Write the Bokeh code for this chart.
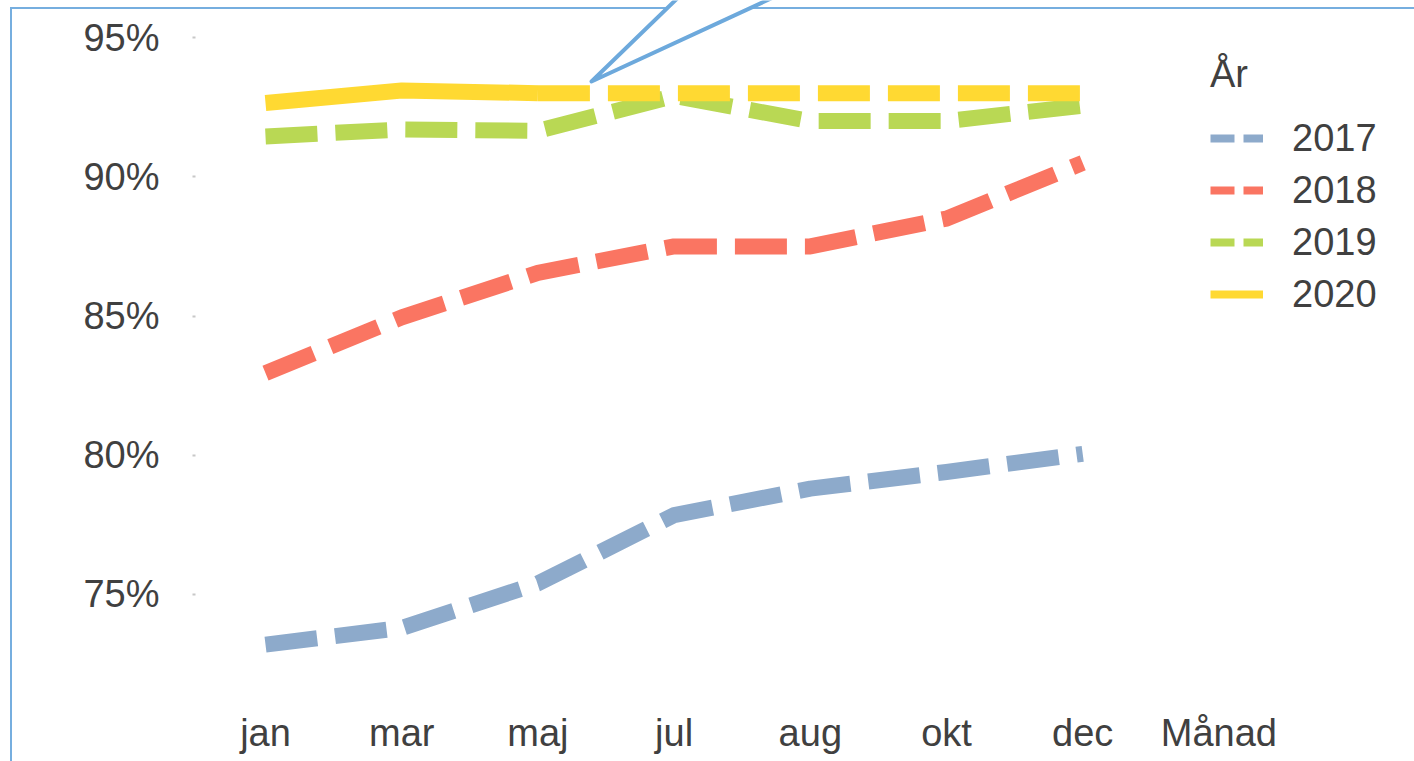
from bokeh.plotting import figure
from bokeh.models import (Range1d, FixedTicker, PrintfTickFormatter, Legend,
                          LegendItem, PolyAnnotation, InlineStyleSheet)
from bokeh.embed import file_html
from bokeh.resources import INLINE

# ---------------- data ----------------
months = ["jan", "mar", "maj", "jul", "aug", "okt", "dec"]
x_axis_title = "Månad"
legend_title = "År"
years = ["2017", "2018", "2019", "2020"]
v2017 = [73.2, 73.8, 75.4, 77.85, 78.8, 79.4, 80.05]
v2018 = [82.95, 84.95, 86.55, 87.5, 87.5, 88.5, 90.5]
v2019 = [91.45, 91.7, 91.65, 92.9, 92.0, 92.0, 92.55]
v2020 = [92.65, 93.1, 93.0, 93.0, 93.0, 93.0, 93.0]
n_solid_2020 = 3          # jan..maj drawn solid, the rest dashed
y_ticks = [75, 80, 85, 90, 95]

series = {"2017": v2017, "2018": v2018, "2019": v2019, "2020": v2020}
colors = {"2017": "#8DAACB", "2018": "#FA7562", "2019": "#B9D854", "2020": "#FFD932"}
TEXT = "#404040"
FONT = "Liberation Sans"
BORDER = "#76AEDF"

# ---------------- layout constants (pixels) ----------------
W, H = 1414, 761
FL, FT, FB = 195, 0, 705          # frame left / top / bottom on the canvas

def sx(px):   # canvas x -> frame screen x
    return px - FL

def sy(py):   # canvas y -> frame screen y (from bottom)
    return FB - py

xs = list(range(len(months)))

p = figure(width=W, height=H, output_backend="svg", toolbar_location=None,
           x_range=Range1d(-0.514, 8.436), y_range=Range1d(71.014, 96.33),
           min_border_left=FL, min_border_right=0, min_border_top=FT,
           min_border_bottom=H - FB)
p.outline_line_color = None
p.xgrid.visible = False
p.ygrid.visible = False
p.background_fill_alpha = 0
p.border_fill_alpha = 0

# chart border (thin blue frame line at left/top of the whole chart object)
p.stylesheets = [InlineStyleSheet(css=(
    ":host { position: relative; }"
    ":host::before { content: ''; position: absolute; left: 10px; top: 7px;"
    " width: 1402px; height: 752px; border-left: 2px solid " + BORDER + ";"
    " border-top: 2px solid " + BORDER + "; pointer-events: none; }"))]

# ---------------- series ----------------
LW = 16
DASH = "52 18"
p.line(xs, v2017, line_color=colors["2017"], line_width=LW, line_dash=DASH, line_join="round")
p.line(xs, v2018, line_color=colors["2018"], line_width=LW, line_dash=DASH, line_join="round")
p.line(xs, v2019, line_color=colors["2019"], line_width=LW, line_dash=DASH, line_join="round")
p.line(xs[:n_solid_2020], v2020[:n_solid_2020], line_color=colors["2020"], line_width=LW,
       line_join="round")
p.line(xs[n_solid_2020 - 1:], v2020[n_solid_2020 - 1:], line_color=colors["2020"],
       line_width=LW, line_dash=DASH, line_join="round")

# ---------------- axes ----------------
xax = p.xaxis[0]
xax.ticker = FixedTicker(ticks=xs + [len(months)])
xax.major_label_overrides = {i: m for i, m in enumerate(months)}
xax.major_label_overrides[len(months)] = x_axis_title
xax.axis_line_color = None
xax.major_tick_line_color = None
xax.minor_tick_line_color = None
xax.major_label_standoff = 0
xax.major_label_text_font = FONT
xax.major_label_text_font_size = "38px"
xax.major_label_text_color = TEXT

yax = p.yaxis[0]
yax.ticker = FixedTicker(ticks=y_ticks)
yax.formatter = PrintfTickFormatter(format="%d%%")
yax.axis_line_color = None
yax.major_tick_in = 0
yax.major_tick_out = 3
yax.major_tick_line_color = "#C8C8C8"
yax.major_tick_line_width = 2
yax.minor_tick_line_color = None
yax.major_label_standoff = 33
yax.major_label_text_font = FONT
yax.major_label_text_font_size = "38px"
yax.major_label_text_color = TEXT

# ---------------- legend (hidden proxy renderers with a legend-sized stroke) ----------------
items = []
for yr in years:
    dash = "solid" if yr == "2020" else "24 9"
    r = p.line(xs, series[yr], line_color=colors[yr], line_width=8, line_dash=dash,
               visible=False)
    items.append(LegendItem(label=yr, renderers=[r]))

legend = Legend(items=items, title=legend_title, location=(sx(1210), sy(316)),
                glyph_width=53, glyph_height=44, label_height=44, label_standoff=29,
                spacing=8, padding=10, margin=0, border_line_color=None,
                background_fill_alpha=0, click_policy="none",
                label_text_font=FONT, label_text_font_size="38px", label_text_color=TEXT,
                title_text_font=FONT, title_text_font_size="38px",
                title_text_font_style="normal", title_text_color=TEXT, title_standoff=20)
p.add_layout(legend)

# ---------------- callout pointer (white bubble tail, covers the border line) ----------------
callout = PolyAnnotation(xs=[sx(591), sx(687), sx(792)],
                         ys=[sy(81), sy(-12), sy(-12)],
                         xs_units="screen", ys_units="screen",
                         fill_color="white", fill_alpha=1,
                         line_color="#6DA9DC", line_alpha=1, line_width=4,
                         line_join="round", level="overlay")
p.add_layout(callout)

open("out.html", "w").write(file_html(p, INLINE))
